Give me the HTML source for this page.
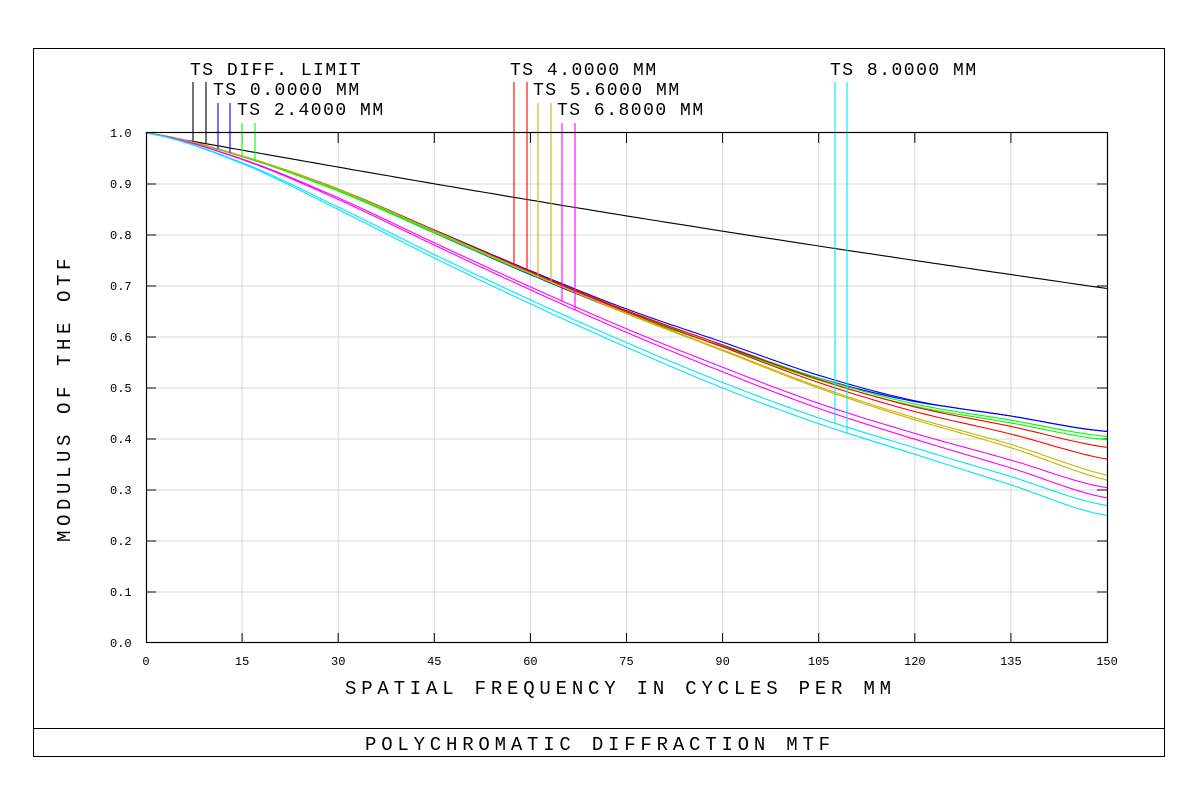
<!DOCTYPE html>
<html><head><meta charset="utf-8"><style>
html,body{margin:0;padding:0;background:#fff;}
svg{display:block}
text{font-family:"Liberation Mono",monospace;fill:#000;}
</style></head><body>
<svg id="s" width="1200" height="802" xmlns="http://www.w3.org/2000/svg">
<rect x="33.5" y="48.5" width="1131" height="708" fill="none" stroke="#000" stroke-width="1"/>
<line x1="33" y1="728.5" x2="1164" y2="728.5" stroke="#000"/>
<g id="grid"></g>
<g id="curves"></g>
<g id="leg"></g>
<rect x="146.5" y="132.5" width="961" height="510" fill="none" stroke="#000" stroke-width="1.2"/>
<g font-size="12" id="ticks"></g>
<text x="345" y="694" font-size="19" letter-spacing="4.8">SPATIAL FREQUENCY IN CYCLES PER MM</text>
<text x="365" y="750" font-size="19" letter-spacing="4.8">POLYCHROMATIC DIFFRACTION MTF</text>
<text transform="translate(70,542) rotate(-90)" font-size="19" letter-spacing="4.6">MODULUS OF THE OTF</text>
<g font-size="18" letter-spacing="1.5">
<text x="190" y="75">TS DIFF. LIMIT</text>
<text x="213" y="95">TS 0.0000 MM</text>
<text x="237" y="115">TS 2.4000 MM</text>
<text x="510" y="75">TS 4.0000 MM</text>
<text x="533" y="95">TS 5.6000 MM</text>
<text x="557" y="115">TS 6.8000 MM</text>
<text x="830" y="75">TS 8.0000 MM</text>
</g>
</svg>
<script>
var NS="http://www.w3.org/2000/svg";
function X(f){return 146+f*961/150;}
function Y(v){return 643-v*510;}
function el(p,t,a){var e=document.createElementNS(NS,t);for(var k in a)e.setAttribute(k,a[k]);document.getElementById(p).appendChild(e);return e;}
for(var i=1;i<10;i++){var x=X(i*15);el("grid","line",{x1:x,y1:133,x2:x,y2:643,stroke:"#d8d8d8"});el("grid","line",{x1:x,y1:133,x2:x,y2:143,stroke:"#000"});el("grid","line",{x1:x,y1:633,x2:x,y2:643,stroke:"#000"});}
for(var i=1;i<10;i++){var y=Y(i/10);el("grid","line",{x1:146,y1:y,x2:1107,y2:y,stroke:"#d8d8d8"});el("grid","line",{x1:146,y1:y,x2:156,y2:y,stroke:"#000"});el("grid","line",{x1:1097,y1:y,x2:1107,y2:y,stroke:"#000"});}
for(var i=0;i<=10;i++){var t=el("ticks","text",{x:110,y:Y(i/10)+4});t.textContent=(i/10).toFixed(1);}
for(var i=0;i<=10;i++){var s=String(i*15);var t=el("ticks","text",{x:X(i*15)-s.length*3.6,y:665});t.textContent=s;}
var H=[1,0.955,0.89,0.81,0.73,0.655,0.59,0.525,0.475,0.445,0.415];
var L=[1,0.94,0.85,0.755,0.665,0.58,0.50,0.43,0.37,0.31,0.25];
function interp(a,f){var i=Math.min(9,Math.floor(f/15)),u=(f-i*15)/15;
 var p0=a[Math.max(0,i-1)],p1=a[i],p2=a[i+1],p3=a[Math.min(10,i+2)];
 return 0.5*((2*p1)+(-p0+p2)*u+(2*p0-5*p1+4*p2-p3)*u*u+(-p0+3*p1-3*p2+p3)*u*u*u);}
function diff(f){return 1-0.305*(f/150)-0.01*Math.sin(Math.PI*f/150);}
var curves=[
 ["#0000ff",0.0,0],["#0000ff",0.02,0],["#00ff00",0.06,0],["#00ff00",0.10,0],
 ["#ff0000",0.19,1],["#ff0000",0.33,1],["#c8b400",0.52,1],["#c8b400",0.58,1],
 ["#ff00ff",0.67,0],["#ff00ff",0.79,0],["#00e5ff",0.88,0],["#00e5ff",1.0,0]];
function cv(c,f){var h=interp(H,f),l=interp(L,f);var a=c[1];if(c[2])a=a*Math.pow(f/150,2.2);else if(c[0]=="#ff00ff")a=a*(0.55+0.45*f/150);else if(c[0]=="#0000ff"&&c[1]>0)a=0.12*Math.sin(Math.PI*Math.min(1,f/125));return h-a*(h-l);}
function poly(fn,col){var pts=[];for(var f=0;f<=150;f+=1)pts.push(X(f).toFixed(1)+","+Y(fn(f)).toFixed(1));el("curves","polyline",{points:pts.join(" "),fill:"none",stroke:col,"stroke-width":1.1});}
poly(diff,"#000");
curves.forEach(function(c){poly(function(f){return cv(c,f);},c[0]);});
function fx(x){return (x-146)*150/961;}
var legs=[[193,82,null],[206,82,null],[218,103,0],[230,103,1],[242,123,2],[255,123,3],[514,82,4],[527,82,5],[538,103,6],[551,103,7],[562,123,8],[575,123,9],[835,82,10],[847,82,11]];
legs.forEach(function(l){var f=fx(l[0]);var v,col;if(l[2]===null){v=diff(f);col="#000";}else{v=cv(curves[l[2]],f);col=curves[l[2]][0];}
 el("leg","line",{x1:l[0],y1:l[1],x2:l[0],y2:Y(v),stroke:col,"stroke-width":1.1});});
</script>
</body></html>
